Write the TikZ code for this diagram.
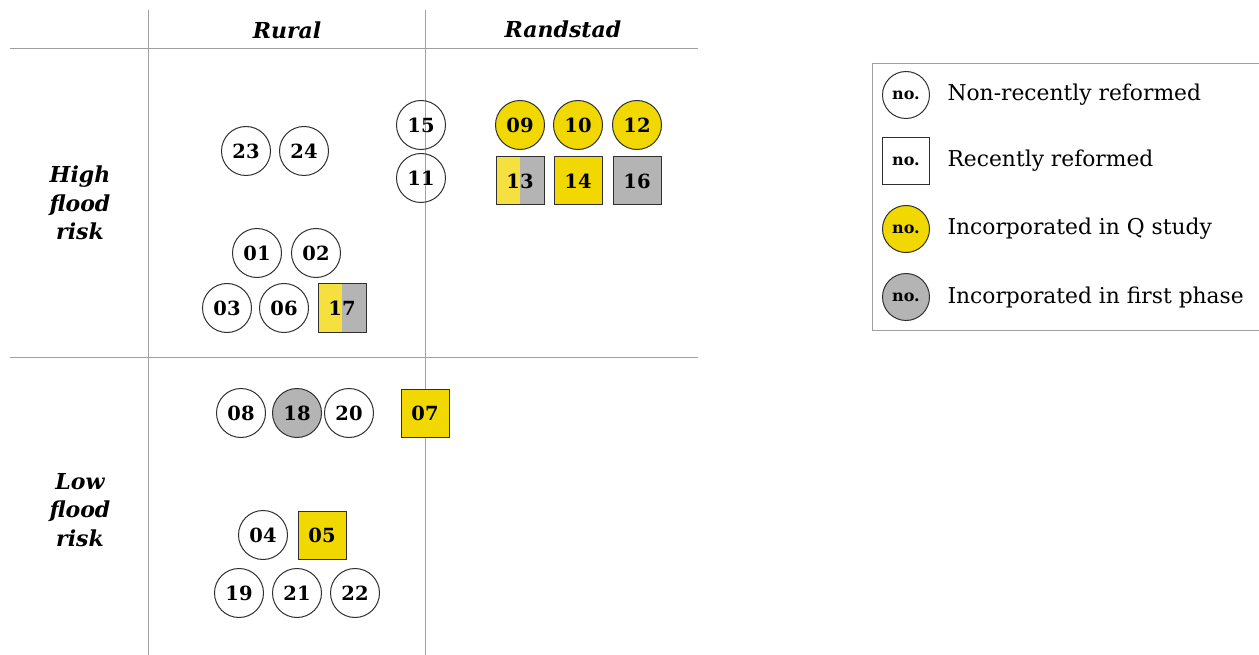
\documentclass[tikz,border=0pt]{standalone}
\usepackage{fontspec}
\setmainfont{DejaVu Serif}
\usetikzlibrary{calc}

\definecolor{qyellow}{HTML}{F0D800}
\definecolor{qyellowl}{HTML}{F5E040}
\definecolor{qgrey}{HTML}{B4B4B4}
\definecolor{gridgrey}{HTML}{A0A0A0}
\definecolor{edgegrey}{HTML}{303030}

\tikzset{
    case/.style={draw=edgegrey, line width=1pt, inner sep=0pt, text=black,
        font=\fontsize{19.5}{22}\selectfont\bfseries},
    circ/.style={case, circle, minimum size=49pt},
    sq/.style={case, rectangle, minimum size=48pt},
    yel/.style={fill=qyellow},
    gry/.style={fill=qgrey},
    split/.style={path picture={
        \fill[qyellowl] (path picture bounding box.south west) rectangle (path picture bounding box.north);
        \fill[qgrey] (path picture bounding box.south) rectangle (path picture bounding box.north east);
    }},
    head/.style={font=\fontsize{22}{28.5}\selectfont\bfseries\itshape, align=center},
    legtext/.style={font=\fontsize{21.8}{26}\selectfont, anchor=west},
    legmark/.style={font=\fontsize{16}{18}\selectfont\bfseries, minimum size=47pt},
}

\begin{document}
\begin{tikzpicture}[x=1pt, y=-1pt]

    \useasboundingbox (0,0) rectangle (1259,655);

    % table lines
    \draw[gridgrey, line width=0.8pt] (148,10) -- (148,655);
    \draw[gridgrey, line width=0.8pt] (425,10) -- (425,655);
    \draw[gridgrey, line width=0.8pt] (10,48) -- (698,48);
    \draw[gridgrey, line width=0.8pt] (10,357) -- (698,357);

    % headers
    \node[head] (rural) at (287,30) {Rural};
    \node[head] (randstad) at (563,29) {Randstad};
    \node[head] (high) at (80,203) {High\\flood\\risk};
    \node[head] (low) at (80,510) {Low\\flood\\risk};

    % high flood risk, rural
    \node[circ] (n23) at (246,151) {23};
    \node[circ] (n24) at (304,151) {24};
    \node[circ] (n01) at (257,253) {01};
    \node[circ] (n02) at (316,253) {02};
    \node[circ] (n03) at (227,308) {03};
    \node[circ] (n06) at (284,308) {06};
    \node[sq, split] (n17) at (342,308) {17};

    % on the border
    \node[circ] (n15) at (421,125) {15};
    \node[circ] (n11) at (421,178) {11};

    % high flood risk, Randstad
    \node[circ, yel] (n09) at (520,125) {09};
    \node[circ, yel] (n10) at (578,125) {10};
    \node[circ, yel] (n12) at (637,125) {12};
    \node[sq, split] (n13) at (520,181) {13};
    \node[sq, yel] (n14) at (578,181) {14};
    \node[sq, gry] (n16) at (637,181) {16};

    % low flood risk
    \node[circ] (n08) at (241,413) {08};
    \node[circ, gry] (n18) at (297,413) {18};
    \node[circ] (n20) at (349,413) {20};
    \node[sq, yel] (n07) at (425,413) {07};
    \node[circ] (n04) at (263,535) {04};
    \node[sq, yel] (n05) at (322,535) {05};
    \node[circ] (n19) at (239,593) {19};
    \node[circ] (n21) at (297,593) {21};
    \node[circ] (n22) at (355,593) {22};

    % legend
    \draw[gridgrey, line width=0.8pt] (1259,63) -- (872,63) -- (872,330) -- (1259,330);
    \node[circ, legmark] (lg1) at (906,95) {no.};
    \node[sq, legmark] (lg2) at (906,161) {no.};
    \node[circ, yel, legmark] (lg3) at (906,229) {no.};
    \node[circ, gry, legmark] (lg4) at (906,297) {no.};
    \node[legtext] (lt1) at (944,95) {Non-recently reformed};
    \node[legtext] (lt2) at (944,161) {Recently reformed};
    \node[legtext] (lt3) at (944,229) {Incorporated in Q study};
    \node[legtext] (lt4) at (944,297) {Incorporated in first phase};

\end{tikzpicture}
\end{document}
